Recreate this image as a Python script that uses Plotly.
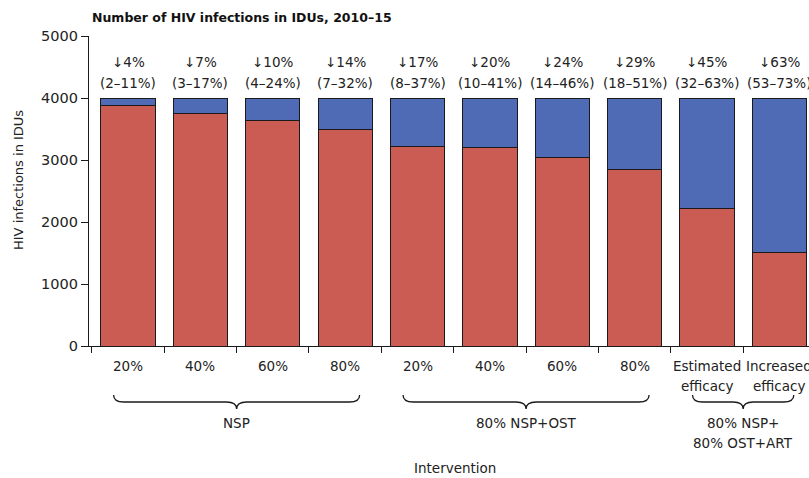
import plotly.graph_objects as go

# ---- data ----
tick_labels = ["20%", "40%", "60%", "80%", "20%", "40%", "60%", "80%",
               "Estimated<br>efficacy", "Increased<br>efficacy"]
total_infections = [4000, 4000, 4000, 4000, 4000, 4000, 4000, 4000, 4000, 4000]
remaining_infections = [3876, 3758, 3634, 3484, 3215, 3205, 3037, 2850, 2221, 1511]
reduction_labels = ["↓4%<br>(2–11%)", "↓7%<br>(3–17%)", "↓10%<br>(4–24%)", "↓14%<br>(7–32%)",
                    "↓17%<br>(8–37%)", "↓20%<br>(10–41%)", "↓24%<br>(14–46%)", "↓29%<br>(18–51%)",
                    "↓45%<br>(32–63%)", "↓63%<br>(53–73%)"]
groups = [("NSP", 0, 3), ("80% NSP+OST", 4, 7), ("80% NSP+<br>80% OST+ART", 8, 9)]

averted = [t - r for t, r in zip(total_infections, remaining_infections)]
xs = list(range(len(tick_labels)))

RED = "#CB5C53"
BLUE = "#4F6BB6"
FONT = "DejaVu Sans"
TXT = "#222222"

fig = go.Figure()
fig.add_trace(go.Bar(x=xs, y=remaining_infections, marker=dict(color=RED, line=dict(color="#1a1a1a", width=1)),
                     width=0.75, showlegend=False, hoverinfo="y"))
fig.add_trace(go.Bar(x=xs, y=averted, marker=dict(color=BLUE, line=dict(color="#1a1a1a", width=1)),
                     width=0.75, showlegend=False, hoverinfo="y"))

# plot area geometry (pixels) used to place paper-space decorations
W, H = 809, 478
L, R, T, B = 89, 0, 36, 132
ph = H - T - B

def py(pix):
    return (H - B - pix) / ph

annotations = []

def add_lines(x, text, top_pix, step, size, xref="x"):
    for k, line in enumerate(text.split("<br>")):
        annotations.append(dict(x=x, y=py(top_pix + step * k), xref=xref, yref="paper", text=line,
                                showarrow=False, yanchor="middle",
                                font=dict(family=FONT, size=size, color=TXT)))

for i, lab in enumerate(tick_labels):
    add_lines(i, lab, 366, 20, 13.5)
for i, lab in enumerate(reduction_labels):
    add_lines(i, lab, 62, 21, 13.5)

shapes = []
ye, yb, yp = py(395), py(402), py(409)
for name, a, b in groups:
    x0, x1 = a - 0.2, b + 0.2
    xm = (a + b) / 2
    d = 0.14
    path = (f"M {x0},{ye} Q {x0},{yb} {x0+d},{yb} L {xm-d},{yb} Q {xm},{yb} {xm},{yp} "
            f"Q {xm},{yb} {xm+d},{yb} L {x1-d},{yb} Q {x1},{yb} {x1},{ye}")
    shapes.append(dict(type="path", path=path, xref="x", yref="paper",
                       line=dict(color="#1a1a1a", width=1.3)))
    add_lines(xm, name, 423, 20, 13.5)

annotations.append(dict(x=(455 - L) / (W - L - R), y=py(468), xref="paper", yref="paper", text="Intervention",
                        showarrow=False, yanchor="middle", font=dict(family=FONT, size=13.5, color=TXT)))
annotations.append(dict(x=(18 - L) / (W - L - R), y=py(180), xref="paper", yref="paper",
                        text="HIV infections in IDUs", textangle=-90, showarrow=False,
                        xanchor="center", yanchor="middle", font=dict(family=FONT, size=13, color=TXT)))
annotations.append(dict(x=(90 - L) / (W - L - R), y=py(17), xref="paper", yref="paper",
                        text="<b>Number of HIV infections in IDUs, 2010–15</b>", showarrow=False,
                        xanchor="left", yanchor="middle", font=dict(family=FONT, size=12.5, color="#111111")))

fig.update_layout(
    width=W, height=H, barmode="stack", bargap=0.25,
    margin=dict(l=L, r=R, t=T, b=B),
    plot_bgcolor="white", paper_bgcolor="white",
    annotations=annotations, shapes=shapes,
    xaxis=dict(range=[-0.54, 9.41], tickmode="array", tickvals=[i + 0.5 for i in range(-1, 9)],
               ticktext=[""] * 10, ticks="outside", ticklen=6, tickcolor="#1a1a1a", tickwidth=1.3,
               showline=True, linecolor="#1a1a1a", linewidth=1.3, showgrid=False, zeroline=False),
    yaxis=dict(range=[0, 5000], tickvals=[0, 1000, 2000, 3000, 4000, 5000], ticks="outside", ticklen=7,
               tickcolor="#1a1a1a", tickwidth=1.3, showline=True, linecolor="#1a1a1a", linewidth=1.3,
               showgrid=False, zeroline=False, tickfont=dict(family=FONT, size=14.5, color=TXT)),
)

fig.write_html("out.html", config={"displayModeBar": False},
               post_script="document.body.style.margin='0';document.body.style.overflow='hidden';")
